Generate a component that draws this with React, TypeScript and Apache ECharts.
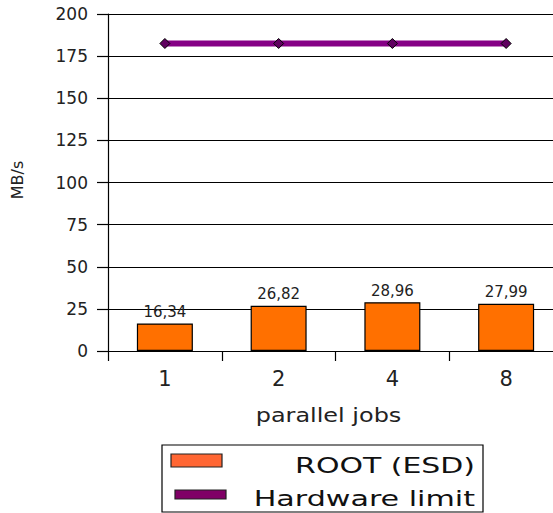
import React, { useEffect, useRef } from "react";
import * as echarts from "echarts";

const categories = ["1", "2", "4", "8"];
const rootEsd = [16.34, 26.82, 28.96, 27.99];
const hardwareLimit = [182.5, 182.5, 182.5, 182.5];
const seriesNames = ["ROOT (ESD)", "Hardware limit"];
const yAxisName = "MB/s";
const xAxisName = "parallel jobs";

export default function App() {
  const ref = useRef<HTMLDivElement>(null);
  useEffect(() => {
    if (!ref.current) return;
    const chart = echarts.init(ref.current, null, { renderer: "svg" });
    const font = "DejaVu Sans";
    chart.setOption({
      animation: false,
      backgroundColor: "#fff",
      textStyle: { fontFamily: font },
      grid: {
        left: 108,
        top: 14,
        width: 455,
        height: 337,
        containLabel: false,
        outerBoundsMode: "none",
      },
      xAxis: {
        type: "category",
        data: categories,
        axisLine: { show: true, lineStyle: { color: "#000", width: 1.2 } },
        axisTick: { show: true, length: 10, lineStyle: { color: "#000", width: 1.2 } },
        axisLabel: { fontSize: 21, color: "#222", margin: 17, fontFamily: font },
        splitLine: { show: false },
      },
      yAxis: {
        type: "value",
        min: 0,
        max: 200,
        interval: 25,
        axisLine: { show: true, lineStyle: { color: "#000", width: 1.2 } },
        axisTick: { show: true, length: 11, lineStyle: { color: "#000", width: 1.2 } },
        axisLabel: { fontSize: 17, color: "#222", margin: 20, fontFamily: font },
        splitLine: { show: true, lineStyle: { color: "#000", width: 1.2 } },
      },
      series: [
        {
          name: seriesNames[0],
          type: "bar",
          data: rootEsd,
          barWidth: 56,
          itemStyle: { color: "#ff7000", borderColor: "#000", borderWidth: 1.2 },
          label: {
            show: true,
            position: "top",
            distance: 4,
            fontSize: 15,
            color: "#222",
            fontFamily: font,
            formatter: (p: any) => String(p.value.toFixed(2)).replace(".", ","),
          },
          z: 2,
        },
        {
          name: seriesNames[1],
          type: "line",
          data: hardwareLimit,
          symbol: "diamond",
          symbolSize: 10,
          lineStyle: { color: "#850085", width: 6 },
          itemStyle: { color: "#600060", borderColor: "#000", borderWidth: 1 },
          z: 3,
        },
      ],
      graphic: [
        {
          type: "text",
          x: 17.5,
          y: 180,
          rotation: Math.PI / 2,
          style: {
            text: yAxisName,
            fontSize: 16,
            fontFamily: font,
            fill: "#222",
            align: "center",
            verticalAlign: "middle",
          },
        },
        {
          type: "text",
          x: 328.5,
          y: 415,
          scaleX: 1.26,
          style: {
            text: xAxisName,
            fontSize: 19,
            fontFamily: font,
            fill: "#222",
            align: "center",
            verticalAlign: "middle",
          },
        },
        {
          type: "rect",
          shape: { x: 162, y: 445, width: 321, height: 67 },
          style: { fill: "#fff", stroke: "#000", lineWidth: 1.2 },
        },
        {
          type: "rect",
          shape: { x: 171, y: 454, width: 51, height: 13 },
          style: { fill: "#ff6633", stroke: "#222", lineWidth: 1.2 },
        },
        {
          type: "rect",
          shape: { x: 175, y: 490, width: 51, height: 9 },
          style: { fill: "#800066", stroke: "#222", lineWidth: 1.2 },
        },
        {
          type: "text",
          x: 475,
          y: 465,
          scaleX: 1.36,
          style: {
            text: seriesNames[0],
            fontSize: 22,
            fontFamily: font,
            fill: "#111",
            align: "right",
            verticalAlign: "middle",
          },
        },
        {
          type: "text",
          x: 475,
          y: 498,
          scaleX: 1.37,
          style: {
            text: seriesNames[1],
            fontSize: 22,
            fontFamily: font,
            fill: "#111",
            align: "right",
            verticalAlign: "middle",
          },
        },
      ],
    });
    return () => chart.dispose();
  }, []);
  return <div ref={ref} style={{ width: 553, height: 513, position: "absolute", left: 0, top: 0 }} />;
}
